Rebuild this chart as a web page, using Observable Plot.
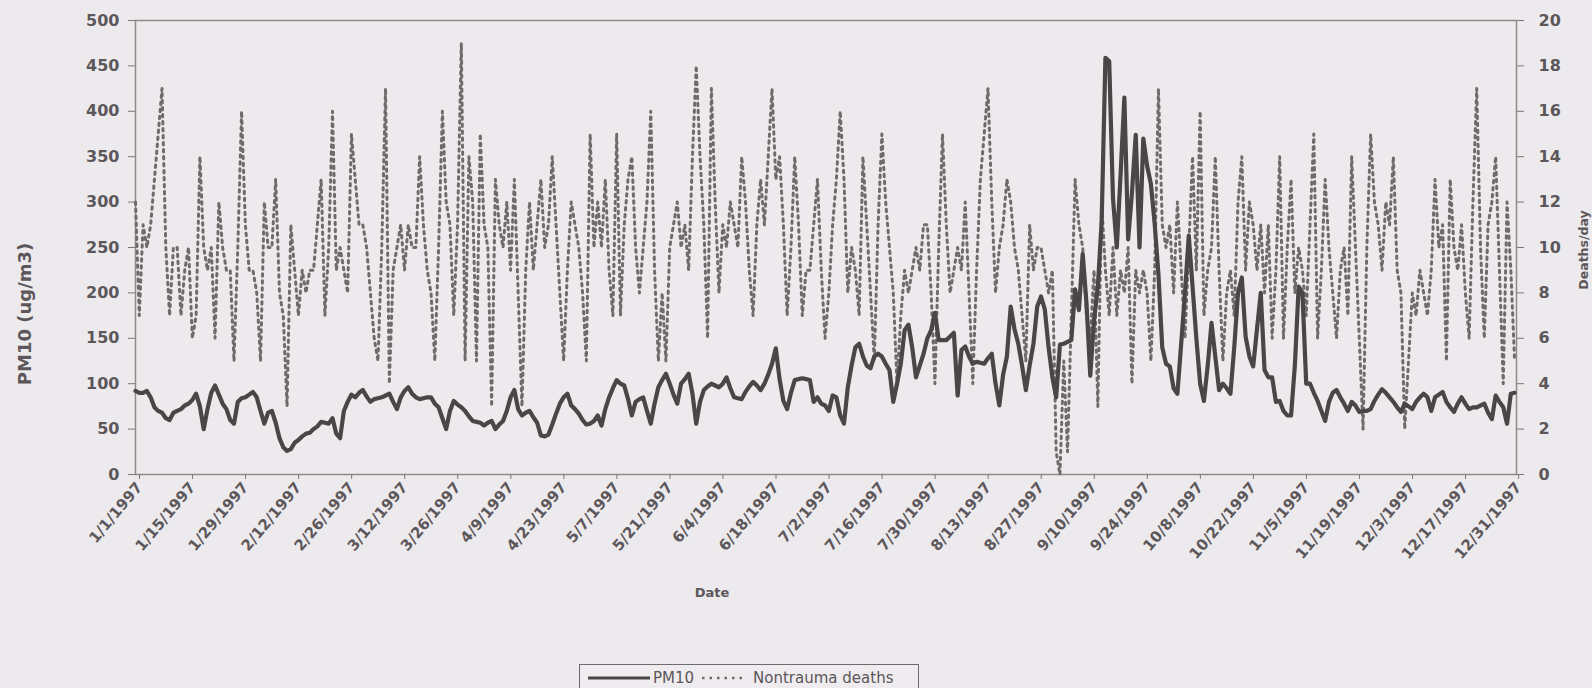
<!DOCTYPE html>
<html>
<head>
<meta charset="utf-8">
<script src="https://cdn.jsdelivr.net/npm/d3@7"></script>
<script src="https://cdn.jsdelivr.net/npm/@observablehq/plot@0.6"></script>
<style>
  html, body { margin: 0; padding: 0; background: #edeaed; }
  #wrap { position: relative; width: 1592px; height: 688px; overflow: hidden; }
  #chart svg text { font-weight: bold; }
  #legend {
    position: absolute; left: 579px; top: 664px; width: 340px; height: 28px;
    border: 1.5px solid #6f6a6d; box-sizing: border-box; background: #efecef;
    font-family: "DejaVu Sans", sans-serif; font-size: 15px; color: #5c575a;
    display: flex; align-items: center; padding-left: 8px; white-space: nowrap;
  }
  #legend svg { display: block; }
</style>
</head>
<body>
<div id="wrap">
  <div id="chart"></div>
  <div id="legend"></div>
</div>
<script>
// ---------- data ----------
const year = 1997;
const seriesNames = ["PM10", "Nontrauma deaths"];

// Daily PM10 (ug/m3), 1 Jan 1997 ... 31 Dec 1997
const pm10 = [
  92,90,90,92,85,74,70,68,62,60,
  68,70,72,76,78,82,89,75,50,72,
  90,98,88,78,72,60,56,80,84,85,
  88,91,85,70,56,68,70,57,40,30,
  26,28,35,38,42,45,46,50,53,58,
  57,56,62,45,40,70,80,88,85,90,
  93,86,80,83,84,85,87,89,80,72,
  85,92,96,89,85,83,84,85,85,78,
  74,62,50,70,81,77,74,70,64,59,
  58,57,54,57,59,50,55,59,70,85,
  93,72,65,68,70,63,57,43,42,44,
  55,67,78,85,89,76,72,67,60,55,
  56,59,65,54,72,85,95,104,100,98,
  83,65,80,83,85,70,56,78,96,104,
  111,100,88,78,100,105,111,89,56,80,
  93,97,100,98,96,100,107,95,85,84,
  83,91,97,102,98,93,100,110,122,139,
  105,81,72,90,104,105,106,105,104,80,
  85,78,76,70,87,85,65,56,96,120,
  140,144,130,120,117,130,133,130,122,115,
  80,100,122,159,165,140,107,120,133,150,
  159,178,148,148,148,152,156,87,137,141,
  130,122,124,123,122,128,133,100,76,110,
  130,185,160,144,120,93,120,144,185,196,
  182,140,107,85,143,144,146,148,204,181,
  243,189,109,170,207,278,459,455,304,250,
  330,415,259,310,374,250,370,340,320,276,
  220,140,122,119,95,89,144,200,263,207,
  150,100,81,120,167,130,93,100,95,89,
  140,200,217,152,130,119,160,200,115,107,
  107,80,81,70,65,65,120,207,200,100,
  100,90,81,70,59,80,90,93,85,78,
  70,80,76,69,70,70,72,81,88,94,
  90,85,80,74,69,78,75,72,80,85,
  89,85,70,85,88,91,80,74,69,78,
  85,78,72,74,74,76,78,68,61,87,
  80,74,56,89,90
];

// Daily non-trauma deaths
const deaths = [
  12,7,11,10,11,13,15,17,10,7,
  10,10,7,9,10,6,7,14,10,9,
  10,6,12,10,9,9,5,10,16,11,
  9,9,8,5,12,10,10,13,8,7,
  3,11,9,7,9,8,9,9,11,13,
  7,10,16,9,10,9,8,15,13,11,
  11,10,8,6,5,10,17,4,9,10,
  11,9,11,10,10,14,11,9,8,5,
  10,16,12,11,7,11,19,5,14,12,
  5,15,11,10,3,13,11,10,12,9,
  13,8,3,9,12,9,11,13,10,11,
  14,11,8,5,9,12,11,10,8,5,
  15,10,12,10,13,9,7,15,7,11,
  13,14,10,8,10,12,16,9,5,8,
  5,10,11,12,10,11,9,14,18,14,
  11,6,17,12,8,11,10,12,11,10,
  14,12,9,7,11,13,11,14,17,13,
  14,11,7,10,14,11,7,9,9,11,
  13,9,6,8,11,13,16,13,8,10,
  9,7,14,11,8,5,11,15,12,10,
  8,4,7,9,8,9,10,9,11,11,
  8,4,10,15,11,8,9,10,9,12,
  8,4,9,13,15,17,12,8,10,11,
  13,12,10,9,7,5,11,9,10,10,
  9,8,9,1,0,5,1,7,13,11,
  10,7,6,9,3,12,9,7,10,7,
  9,8,10,4,9,8,9,8,5,9,
  17,11,10,11,8,12,9,6,10,14,
  9,16,7,9,10,14,9,5,8,9,
  7,12,14,9,12,11,9,11,8,11,
  6,9,14,6,10,13,8,10,9,7,
  11,15,6,9,13,10,8,6,9,10,
  7,14,10,6,2,10,15,12,11,9,
  12,11,14,9,8,2,5,8,7,9,
  8,7,9,13,10,11,5,13,10,9,
  11,8,6,12,17,10,6,11,12,14,
  9,4,12,9,5
];

// Axis tick labels
const xTickLabels = [
  "1/1/1997","1/15/1997","1/29/1997","2/12/1997","2/26/1997","3/12/1997",
  "3/26/1997","4/9/1997","4/23/1997","5/7/1997","5/21/1997","6/4/1997",
  "6/18/1997","7/2/1997","7/16/1997","7/30/1997","8/13/1997","8/27/1997",
  "9/10/1997","9/24/1997","10/8/1997","10/22/1997","11/5/1997","11/19/1997",
  "12/3/1997","12/17/1997","12/31/1997"
];
const pmTicks = [0,50,100,150,200,250,300,350,400,450,500];
const deathTicks = [0,2,4,6,8,10,12,14,16,18,20];
const yTitle = "PM10 (ug/m3)";
const y2Title = "Deaths/day";
const xTitle = "Date";

// ---------- build ----------
const DAY = 864e5;
const t0 = Date.UTC(year, 0, 1);
const dateOf = i => new Date(t0 + i * DAY);
const ratio = 500 / 20; // deaths share the PM10 scale: 20 deaths/day = 500
const pmData = pm10.map((v, i) => ({date: dateOf(i), value: v}));
const deathData = deaths.map((v, i) => ({date: dateOf(i), value: v * ratio}));
const parseMDY = s => { const [m, d, y] = s.split("/").map(Number); return new Date(Date.UTC(y, m - 1, d)); };
const xTicks = xTickLabels.map(parseMDY);
const labelByTime = new Map(xTicks.map((d, i) => [+d, xTickLabels[i]]));

const ink = "#5c575a";
const chart = Plot.plot({
  width: 1592,
  height: 650,
  marginLeft: 135,
  marginRight: 76,
  marginTop: 20,
  marginBottom: 176,
  style: {background: "transparent", fontFamily: "DejaVu Sans, sans-serif", fontSize: "14px", color: ink, overflow: "visible"},
  x: {type: "utc", domain: [new Date(t0), new Date(t0 + 364.5 * DAY)]},
  y: {domain: [0, 500]},
  marks: [
    Plot.frame({stroke: "#8f8a8d", strokeWidth: 1.5}),
    Plot.axisX({ticks: xTicks, tickFormat: d => labelByTime.get(+d), tickRotate: -50, tickSize: 5, tickPadding: 5, dx: 4, fontSize: 15, label: null, stroke: "#7a7578"}),
    Plot.axisY({ticks: pmTicks, tickSize: 7, tickPadding: 9, fontSize: 16, label: null, stroke: "#7a7578"}),
    Plot.axisY({anchor: "right", ticks: deathTicks.map(v => v * ratio), tickFormat: v => String(Math.round(v / ratio)), tickSize: 7, tickPadding: 15, fontSize: 16, label: null, stroke: "#7a7578"}),
    Plot.line(deathData, {x: "date", y: "value", stroke: "#716a6d", strokeWidth: 3, strokeDasharray: "2.5,4.5"}),
    Plot.line(pmData, {x: "date", y: "value", stroke: "#4b4548", strokeWidth: 4.2, strokeLinejoin: "round"}),
    Plot.text([xTitle], {frameAnchor: "bottom", dx: -114, dy: 122, fontSize: 13, fill: ink})
  ]
});
document.getElementById("chart").appendChild(chart);

// axis titles (rotated)
const svg = d3.select(chart);
svg.append("text")
  .attr("transform", "translate(26,314) rotate(-90)")
  .attr("text-anchor", "middle").attr("dominant-baseline", "middle")
  .attr("fill", ink).attr("font-size", 18).text(yTitle);
svg.append("text")
  .attr("transform", "translate(1584,250) rotate(-90)")
  .attr("text-anchor", "middle").attr("dominant-baseline", "middle")
  .attr("fill", ink).attr("font-size", 12.5).text(y2Title);

// ---------- legend ----------
const legend = d3.select("#legend");
const s1 = legend.append("svg").attr("width", 64).attr("height", 12);
s1.append("line").attr("x1", 0).attr("x2", 62).attr("y1", 6).attr("y2", 6)
  .attr("stroke", "#4b4548").attr("stroke-width", 3);
legend.append("span").text(seriesNames[0]).style("margin-left", "1px");
const s2 = legend.append("svg").attr("width", 46).attr("height", 12).style("margin-left", "8px");
s2.append("line").attr("x1", 0).attr("x2", 44).attr("y1", 6).attr("y2", 6)
  .attr("stroke", "#716a6d").attr("stroke-width", 2.5).attr("stroke-dasharray", "2.5,5");
legend.append("span").text(seriesNames[1]).style("margin-left", "5px");
</script>
</body>
</html>
